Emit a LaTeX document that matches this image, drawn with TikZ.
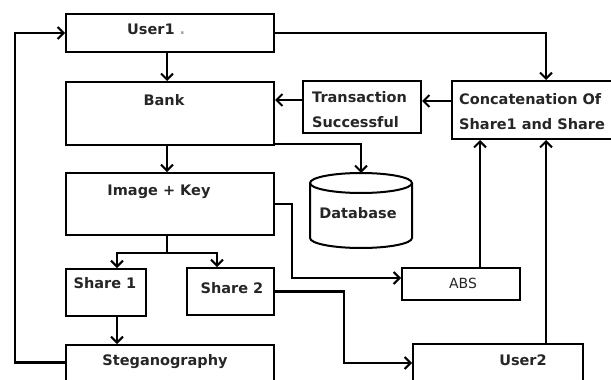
\documentclass[tikz,border=0pt]{standalone}
\usepackage{fontspec}
\setmainfont{DejaVu Sans}
\usetikzlibrary{arrows.meta}

\begin{document}
\begin{tikzpicture}[x=1pt,y=-1pt,font=\bfseries\fontsize{14.5}{25}\selectfont,
  box/.style={draw,line width=2pt,inner sep=0pt},
  txt/.style={inner sep=0pt,text=black!85},
  arr/.style={line width=2.5pt,-{Straight Barb[length=6pt,width=12pt,line width=2pt]}}]
\useasboundingbox (0,0) rectangle (611,380);
\clip (0,0) rectangle (611,380);
% boxes
\node[box,minimum width=208,minimum height=38] (user1) at (170,33) {};
\node[box,minimum width=208,minimum height=63] (bank) at (170,113.5) {};
\node[box,minimum width=208,minimum height=62] (imgkey) at (170,204) {};
\node[box,minimum width=80,minimum height=47] (share1) at (106,292.5) {};
\node[box,minimum width=87,minimum height=47] (share2) at (230.5,291.5) {};
\node[box,minimum width=208,minimum height=55] (steg) at (170,372.5) {};
\node[box,minimum width=118,minimum height=52] (trans) at (362,107) {};
\node[box,minimum width=188,minimum height=58] (concat) at (546,110) {};
\node[box,minimum width=118,minimum height=32] (abs) at (461,284) {};
\node[box,minimum width=170,minimum height=56] (user2) at (498,372) {};
% database drum
\draw[line width=2pt] (361,183) ellipse[x radius=51,y radius=10];
\draw[line width=2pt] (310,183) -- (310,238) arc[start angle=180,end angle=0,x radius=51,y radius=10] -- (412,183);
\coordinate (db) at (361,173);
% texts
\node[txt,anchor=west] (user1-t) at (127,29) {User1 \textcolor{black!35}{.}};
\node[txt] (bank-t) at (164,100) {Bank};
\node[txt] (imgkey-t) at (159,192) {Image + Key};
\node[txt] (share1-t) at (105,283) {Share 1};
\node[txt] (share2-t) at (232,288) {Share 2};
\node[txt] (steg-t) at (165,362) {Steganography};
\node[txt,anchor=west,align=left] (trans-t) at (312,110) {Transaction\\Successful};
\node[txt,anchor=west,align=left] (concat-t) at (459,112) {Concatenation Of\\Share1 and Share};
\node[txt] (db-t) at (358,213) {Database};
\node[txt,font=\fontsize{14}{16}\selectfont] (abs-t) at (463,283) {ABS};
\node[txt] (user2-t) at (523,360) {User2};
% connectors
\draw[arr] ([xshift=-3pt]user1.south) -- ([xshift=-3pt]bank.north);
\draw[arr] ([xshift=-3pt]bank.south) -- ([xshift=-3pt]imgkey.north);
\draw[arr] (user1.east) -| (concat.north);
\draw[arr] ([yshift=9pt]concat.west) -- ([yshift=9pt]concat.west -| trans.east);
\draw[arr] ([yshift=7pt]trans.west) -- ([yshift=7pt]trans.west -| bank.east);
\draw[arr] ([yshift=2pt]bank.south east) -| (db);
\draw[line width=2.5pt] ([xshift=-3pt]imgkey.south) -- ++(0,17) coordinate (fork);
\draw[arr] (fork) -| ([xshift=11pt]share1.north);
\draw[arr] (fork) -| ([xshift=-13.5pt]share2.north);
\draw[arr] ([xshift=11pt]share1.south) -- ([xshift=11pt]share1.south |- steg.north);
\draw[arr] ([yshift=10pt]steg.west) -- ++(-50,0) |- (user1.west);
\draw[arr] (imgkey.east) -- ++(17,0) |- ([yshift=6pt]abs.west);
\draw[arr] ([xshift=19pt]abs.north) -- ([xshift=19pt]abs.north |- concat.south);
\draw[arr] (share2.east) -- ++(69,0) |- ([yshift=9pt]user2.west);
\draw[arr] ([xshift=48pt]user2.north) -- ([xshift=48pt]user2.north |- concat.south);
\end{tikzpicture}
\end{document}
